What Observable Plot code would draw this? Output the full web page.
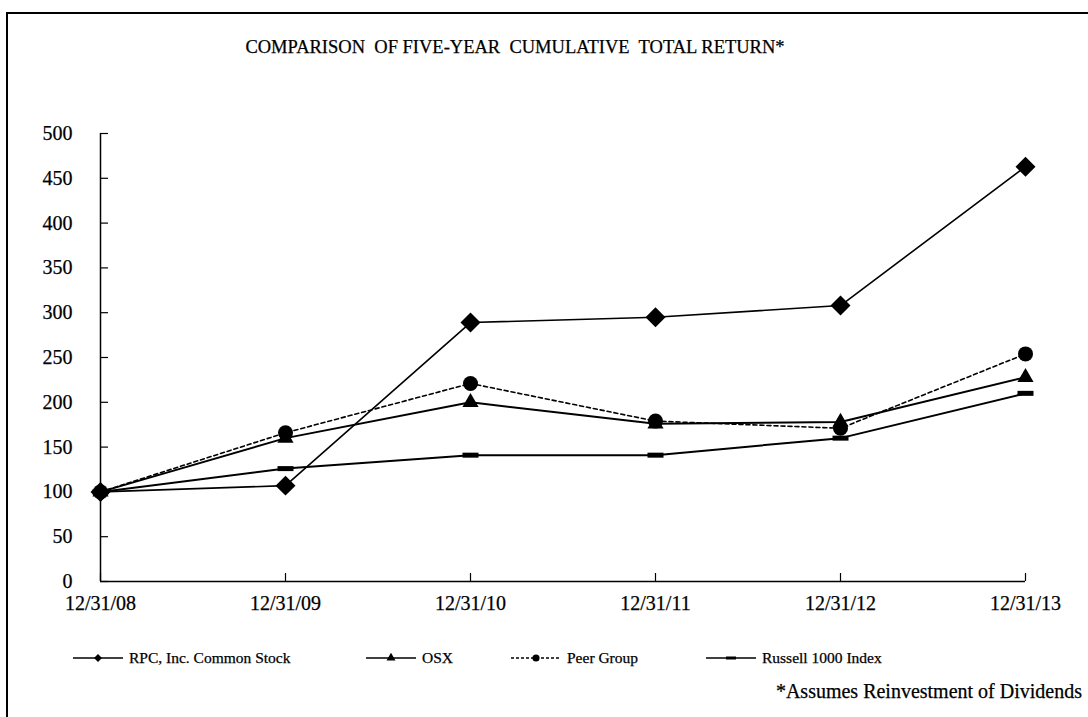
<!DOCTYPE html>
<html>
<head>
<meta charset="utf-8">
<script src="https://cdn.jsdelivr.net/npm/d3@7"></script>
<script src="https://cdn.jsdelivr.net/npm/@observablehq/plot@0.6"></script>
<style>
  html, body { margin: 0; padding: 0; background: #fff; }
  #wrap { position: relative; width: 1088px; height: 717px; overflow: hidden; font-family: "Liberation Serif", "Times New Roman", serif; color: #000; -webkit-text-stroke: 0.25px #000; }
  #frameTop { position: absolute; left: 6px; top: 12px; width: 1082px; height: 2px; background: #000; }
  #frameLeft { position: absolute; left: 6px; top: 12px; width: 2px; height: 705px; background: #000; }
  #title { position: absolute; left: 0; width: 1030px; top: 37px; text-align: center; font-size: 18.5px; white-space: pre; }
  #chart { position: absolute; left: 0; top: 0; }
  #legend { position: absolute; top: 648px; left: 0; width: 1088px; height: 20px; font-size: 15.5px; }
  .item { position: absolute; top: 0; display: flex; align-items: center; white-space: pre; }
  .item svg { display: block; margin-right: 5px; }
  #note { position: absolute; right: 6px; top: 680px; font-size: 20px; white-space: pre; }
  #chart svg text { stroke: #000; stroke-width: 0.25px; }
</style>
</head>
<body>
<div id="wrap">
  <div id="frameTop"></div>
  <div id="frameLeft"></div>
  <div id="title">COMPARISON  OF FIVE-YEAR  CUMULATIVE  TOTAL RETURN*</div>
  <div id="chart"></div>
  <div id="legend"></div>
  <div id="note">*Assumes Reinvestment of Dividends</div>
</div>
<script>
const dates = ["12/31/08", "12/31/09", "12/31/10", "12/31/11", "12/31/12", "12/31/13"];
const seriesNames = ["RPC, Inc. Common Stock", "OSX", "Peer Group", "Russell 1000 Index"];
const rpc = [100, 107, 289, 295, 308, 463];
const osx = [100, 160, 200, 176, 178, 228];
const peer = [100, 166, 221, 179, 171, 254];
const russell = [100, 126, 141, 141, 160, 210];
const yTicks = [0, 50, 100, 150, 200, 250, 300, 350, 400, 450, 500];

const dashSymbol = { draw(ctx) { ctx.rect(-8, -2.5, 16, 5); } };

const toRows = (vals, name) => vals.map((v, i) => ({date: dates[i], value: v, series: name}));
const rpcRows = toRows(rpc, seriesNames[0]);
const osxRows = toRows(osx, seriesNames[1]);
const peerRows = toRows(peer, seriesNames[2]);
const rusRows = toRows(russell, seriesNames[3]);

const chart = Plot.plot({
  width: 1088,
  height: 717,
  marginTop: 133,
  marginBottom: 136,
  marginLeft: 100,
  marginRight: 63,
  style: { fontFamily: "'Liberation Serif', 'Times New Roman', serif", fontSize: "20px", color: "#000", background: "transparent" },
  x: { type: "point", domain: dates, padding: 0 },
  y: { domain: [0, 500] },
  marks: [
    Plot.axisY(yTicks, { tickSize: -8, tickPadding: 36, label: null, fontSize: 20, strokeWidth: 1.2 }),
    Plot.axisX(dates, { tickSize: -8, tickPadding: 22, label: null, fontSize: 20, strokeWidth: 1.2 }),
    Plot.ruleY([0], { stroke: "#000", strokeWidth: 1.5 }),
    Plot.ruleX([dates[0]], { y1: 0, y2: 500, stroke: "#000", strokeWidth: 1.5 }),
    Plot.line(rusRows, { x: "date", y: "value", stroke: "#000", strokeWidth: 2 }),
    Plot.line(osxRows, { x: "date", y: "value", stroke: "#000", strokeWidth: 2 }),
    Plot.line(peerRows, { x: "date", y: "value", stroke: "#000", strokeWidth: 1.6, strokeDasharray: "4,3" }),
    Plot.line(rpcRows, { x: "date", y: "value", stroke: "#000", strokeWidth: 1.6 }),
    Plot.dot(rusRows, { x: "date", y: "value", symbol: dashSymbol, fill: "#000", stroke: "none", r: 8 }),
    Plot.dot(osxRows, { x: "date", y: "value", symbol: "triangle", fill: "#000", stroke: "none", r: 6 }),
    Plot.dot(peerRows, { x: "date", y: "value", symbol: "circle", fill: "#000", stroke: "none", r: 7.5 }),
    Plot.dot(rpcRows, { x: "date", y: "value", symbol: "diamond2", fill: "#000", stroke: "none", r: 9 })
  ]
});
document.getElementById("chart").appendChild(chart);

// Legend
const legendDefs = [
  { name: seriesNames[0], left: 72, marker: "diamond", dash: null },
  { name: seriesNames[1], left: 365, marker: "triangle", dash: null },
  { name: seriesNames[2], left: 510, marker: "circle", dash: "3,2" },
  { name: seriesNames[3], left: 705, marker: "dash", dash: null }
];
const legend = document.getElementById("legend");
for (const d of legendDefs) {
  const item = document.createElement("div");
  item.className = "item";
  item.style.left = d.left + "px";
  const svg = d3.create("svg").attr("width", 52).attr("height", 20);
  svg.append("line").attr("x1", 1).attr("x2", 51).attr("y1", 10).attr("y2", 10)
    .attr("stroke", "#000").attr("stroke-width", 1.5).attr("stroke-dasharray", d.dash);
  let path;
  if (d.marker === "diamond") path = d3.symbol(d3.symbolDiamond2, 40)();
  else if (d.marker === "triangle") path = d3.symbol(d3.symbolTriangle, 35)();
  else if (d.marker === "circle") path = d3.symbol(d3.symbolCircle, 40)();
  if (path) svg.append("path").attr("d", path).attr("transform", "translate(26,10)").attr("fill", "#000");
  else svg.append("rect").attr("x", 21).attr("y", 8.5).attr("width", 10).attr("height", 3).attr("fill", "#000");
  item.appendChild(svg.node());
  const span = document.createElement("span");
  span.textContent = d.name;
  item.appendChild(span);
  legend.appendChild(item);
}
</script>
</body>
</html>
